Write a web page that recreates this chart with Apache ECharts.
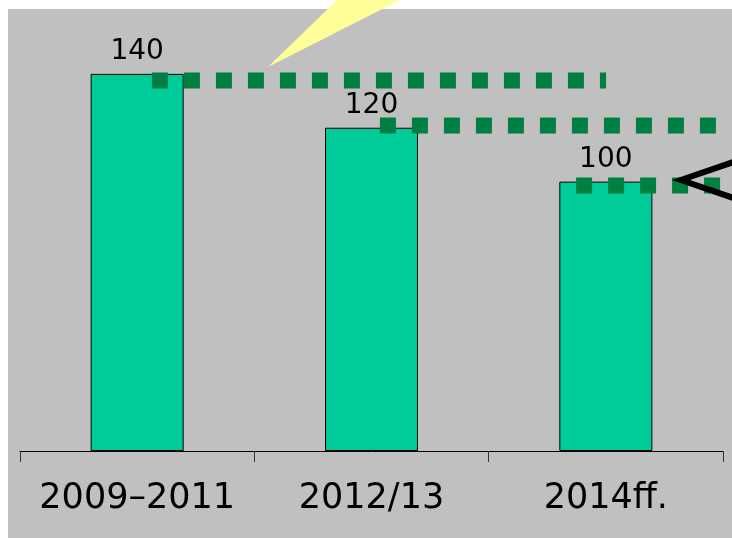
<!DOCTYPE html>
<html>
<head>
<meta charset="utf-8">
<script src="https://cdn.jsdelivr.net/npm/echarts@6/dist/echarts.min.js"></script>
<style>
  html, body { margin: 0; padding: 0; background: #fff; }
  #panel { position: absolute; left: 8px; top: 9px; width: 724px; height: 529px; background: #c0c0c0; }
  #chart { position: absolute; left: 0; top: 0; width: 732px; height: 538px; }
</style>
</head>
<body>
<div id="panel"></div>
<div id="chart"></div>
<script>
  var categories = ['2009\u20132011', '2012/13', '2014ff.'];
  var values = [140, 120, 100];

  // dotted guide lines: [xStart, xEnd] in category units, and their level
  var guideLevels = [137.5, 120.8, 98.6];
  var guideSpans = [[0.563, 2.501], [1.536, 3.05], [2.373, 3.05]];

  var font = 'DejaVu Sans';
  var chart = echarts.init(document.getElementById('chart'));

  var guideSeries = guideLevels.map(function (level, i) {
    return {
      type: 'line',
      xAxisIndex: 1,
      clip: false,
      silent: true,
      symbol: 'none',
      data: [[guideSpans[i][0], level], [guideSpans[i][1], level]],
      lineStyle: { color: '#008040', width: 16, type: [16, 16], cap: 'butt' },
      z: 5
    };
  });

  chart.setOption({
    animation: false,
    backgroundColor: 'transparent',
    grid: { left: 20, right: 9, top: 20, bottom: 87 },
    xAxis: [{
      type: 'category',
      data: categories,
      axisLine: { show: true, lineStyle: { color: '#000', width: 1 } },
      axisTick: { show: true, length: 11, lineStyle: { color: '#333', width: 1 } },
      axisLabel: { show: true, interval: 0, hideOverlap: false, color: '#000', fontFamily: font, fontSize: 35, margin: 30 }
    }, {
      type: 'value',
      min: 0,
      max: 3,
      show: false
    }],
    yAxis: {
      type: 'value',
      min: 0,
      max: 160,
      show: false,
      splitLine: { show: false }
    },
    series: [{
      type: 'bar',
      data: values,
      barWidth: 93,
      itemStyle: { color: '#00cc99', borderColor: '#000', borderWidth: 1 },
      label: { show: true, position: 'top', distance: 8, color: '#000', fontFamily: font, fontSize: 28 },
      z: 2
    }].concat(guideSeries),
    graphic: [{
      type: 'polygon',
      shape: { points: [[268, 67], [337, 0], [400, 0]] },
      style: { fill: '#ffff99' },
      z: 10
    }, {
      type: 'polyline',
      shape: { points: [[745, 158], [681, 180], [745, 202]] },
      style: { stroke: '#000', lineWidth: 6, fill: null },
      z: 10
    }]
  });
</script>
</body>
</html>
